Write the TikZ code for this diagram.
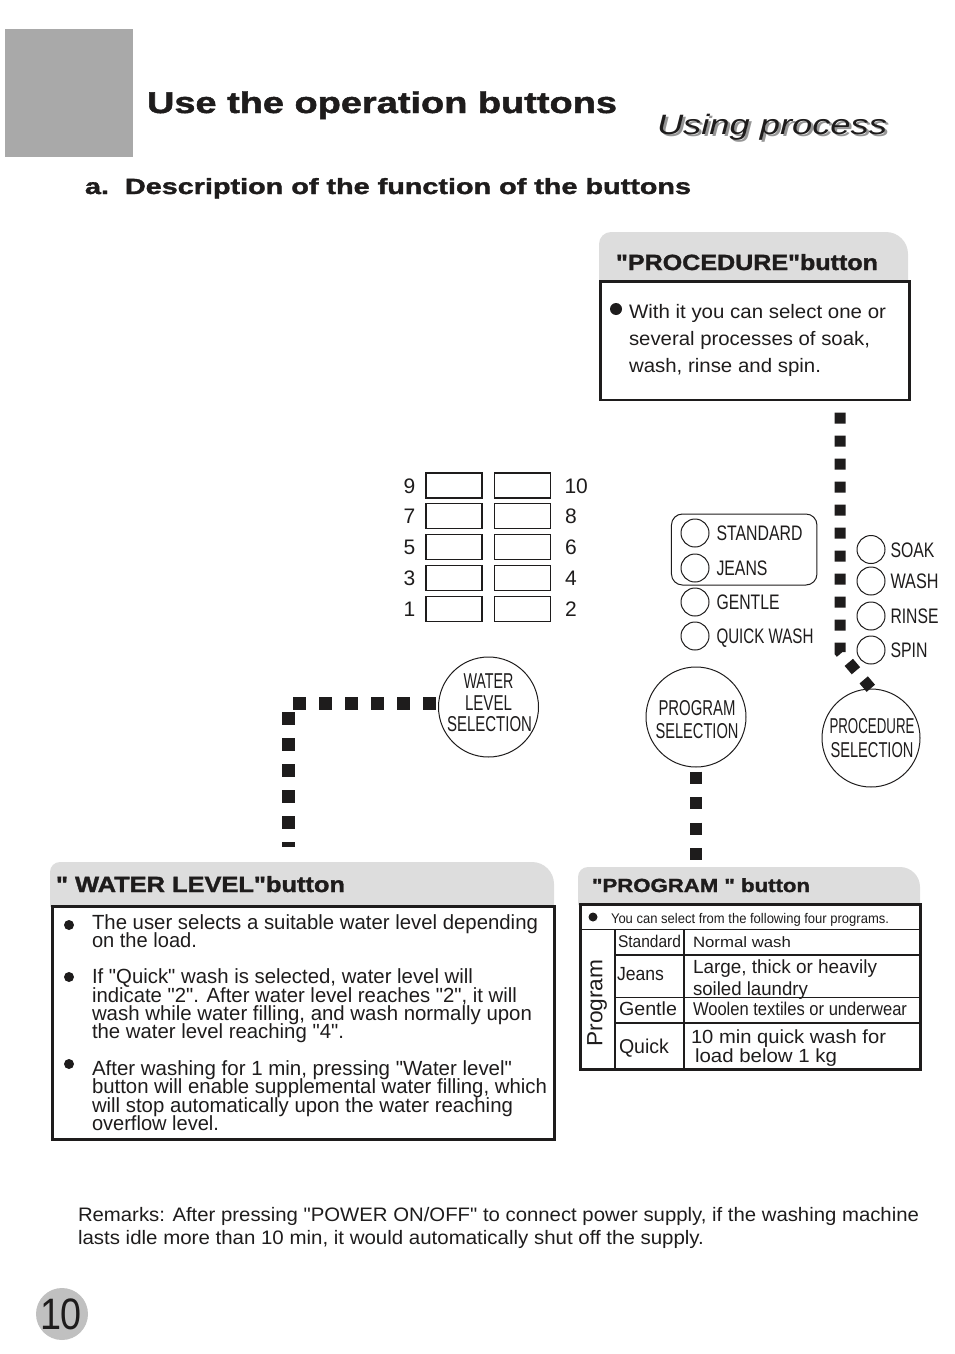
\documentclass[tikz,border=0pt]{standalone}
\usepackage{fontspec}
\usepackage{graphicx}
\newfontfamily\plain{Liberation Sans}
\newfontfamily\heavy[FakeBold=1.4]{Liberation Sans Bold}
\definecolor{ink}{RGB}{30,28,28}
\definecolor{titlegray}{RGB}{169,169,169}
\definecolor{hdr}{RGB}{221,221,221}
\definecolor{pgnum}{RGB}{192,192,192}
\definecolor{shadowgray}{RGB}{150,150,150}
\newsavebox\fitbox
\newcommand\fitw[2]{\sbox\fitbox{#2}\pgfmathsetmacro\fitratio{#1/\the\wd\fitbox}\scalebox{\fitratio}[1]{\usebox\fitbox}}
\newcommand\lbl[3]{{\fontsize{#1}{#1}\plain\fitw{#2}{#3}}}
\newcommand\hlbl[3]{{\fontsize{#1}{#1}\heavy\fitw{#2}{#3}}}
\newcommand\ilbl[3]{{\fontsize{#1}{#1}\plain\itshape\fitw{#2}{#3}}}
\newcommand\numtxt[1]{{\fontsize{21}{21}\plain #1}}
\begin{document}
\begin{tikzpicture}[x=1pt,y=-1pt,
  tx/.style={anchor=base west, inner sep=0pt, outer sep=0pt, text=ink},
  txc/.style={anchor=base, inner sep=0pt, outer sep=0pt, text=ink},
  bodybox/.style={draw=ink, line width=2.6pt, anchor=north west, inner sep=0pt},
  lvbox/.style={draw=ink, line width=1.3pt, minimum width=56pt, minimum height=25pt, inner sep=0pt},
  btn/.style={circle, draw=ink, line width=1pt, minimum size=28pt, inner sep=0pt},
  bigbtn/.style={circle, draw=ink, line width=1pt, minimum size=100pt, inner sep=0pt},
  tabline/.style={draw=ink, line width=1.3pt},
  bul/.style={fill=ink}]
\useasboundingbox (0,0) rectangle (954,1354);

% ---------- title area ----------
\fill[titlegray] (5,29) rectangle (133,157);
\node[tx] (title) at (147,113) {\hlbl{30}{470}{Use the operation buttons}};
\node[tx, text=shadowgray] (usingsh) at (659.5,136.5) {\ilbl{28}{230}{Using process}};
\node[tx] (using) at (657,134) {\ilbl{28}{230}{Using process}};
\node[tx] (subtitle) at (85,194) {\hlbl{22}{606}{a.\ \ Description of the function of the buttons}};

% ---------- PROCEDURE box ----------
\fill[hdr] (599,282) -- (599,244) arc[start angle=180,end angle=270,radius=12] -- (886,232) arc[start angle=270,end angle=360,radius=22] -- (908,282) -- cycle;
\node[tx] (prochead) at (616,270) {\hlbl{22}{262}{"PROCEDURE"button}};
\node[bodybox, minimum width=309pt, minimum height=118.5pt] (procbody) at (599,280) {};
\fill[bul] (616,309) circle (6);
\node[tx] (proc1) at (629,318) {\lbl{19.5}{257}{With it you can select one or}};
\node[tx] (proc2) at (629,345) {\lbl{19.5}{241}{several processes of soak,}};
\node[tx] (proc3) at (629,372) {\lbl{19.5}{192}{wash, rinse and spin.}};

% ---------- water level indicator boxes ----------
\node[lvbox] (lv9)  at (454,485.5) {};
\node[lvbox] (lv10) at (522.5,485.5) {};
\node[lvbox] (lv7)  at (454,516) {};
\node[lvbox] (lv8)  at (522.5,516) {};
\node[lvbox] (lv5)  at (454,547) {};
\node[lvbox] (lv6)  at (522.5,547) {};
\node[lvbox] (lv3)  at (454,578) {};
\node[lvbox] (lv4)  at (522.5,578) {};
\node[lvbox] (lv1)  at (454,609) {};
\node[lvbox] (lv2)  at (522.5,609) {};
\node[txc] (n9) at (409.5,493) {\numtxt{9}};
\node[txc] (n7) at (409.5,523.5) {\numtxt{7}};
\node[txc] (n5) at (409.5,554.5) {\numtxt{5}};
\node[txc] (n3) at (409.5,585.5) {\numtxt{3}};
\node[txc] (n1) at (409.5,616.5) {\numtxt{1}};
\node[tx] (n10) at (564.5,493) {\numtxt{10}};
\node[tx] (n8) at (565,523.5) {\numtxt{8}};
\node[tx] (n6) at (565,554.5) {\numtxt{6}};
\node[tx] (n4) at (565,585.5) {\numtxt{4}};
\node[tx] (n2) at (565,616.5) {\numtxt{2}};

% ---------- program buttons ----------
\node[draw=ink, line width=1pt, rounded corners=11pt, minimum width=145.5pt, minimum height=71pt, inner sep=0pt] (pgroup) at (744.2,549.5) {};
\node[btn] (bstd) at (695,533) {};
\node[btn] (bjea) at (695,568) {};
\node[btn] (bgen) at (695,602) {};
\node[btn] (bqui) at (695,636) {};
\node[tx] (lstd) at (716.5,540.5) {\lbl{21}{86}{STANDARD}};
\node[tx] (ljea) at (716.5,575.5) {\lbl{21}{51}{JEANS}};
\node[tx] (lgen) at (716.5,609.5) {\lbl{21}{63}{GENTLE}};
\node[tx] (lqui) at (716.5,643.5) {\lbl{21}{97}{QUICK WASH}};

% ---------- procedure buttons ----------
\node[btn] (bsoak) at (871,549.5) {};
\node[btn] (bwash) at (871,581) {};
\node[btn] (brins) at (871,616) {};
\node[btn] (bspin) at (871,650) {};
\node[tx] (lsoak) at (890.5,557) {\lbl{21}{44}{SOAK}};
\node[tx] (lwash) at (890.5,588.5) {\lbl{21}{48}{WASH}};
\node[tx] (lrins) at (890.5,623.5) {\lbl{21}{48}{RINSE}};
\node[tx] (lspin) at (890.5,657.5) {\lbl{21}{37}{SPIN}};

% ---------- selection knobs ----------
\node[bigbtn] (wlsel) at (488.5,707) {};
\node[txc] (wl1) at (488.5,688) {\lbl{21.5}{50}{WATER}};
\node[txc] (wl2) at (488.5,710) {\lbl{21.5}{47}{LEVEL}};
\node[txc] (wl3) at (489.5,731.5) {\lbl{21.5}{85}{SELECTION}};
\node[bigbtn] (psel) at (696,717) {};
\node[txc] (ps1) at (697,715) {\lbl{21.5}{77}{PROGRAM}};
\node[txc] (ps2) at (697,738) {\lbl{21.5}{83}{SELECTION}};
\node[bigbtn, minimum size=98pt] (prsel) at (871,738) {};
\node[txc] (pr1t) at (872,733) {\lbl{21.5}{85}{PROCEDURE}};
\node[txc] (pr2t) at (872,757.5) {\lbl{21.5}{83}{SELECTION}};

% ---------- WATER LEVEL box ----------
\fill[hdr] (50,907) -- (50,872) arc[start angle=180,end angle=270,radius=10] -- (532,862) arc[start angle=270,end angle=360,radius=22] -- (554,907) -- cycle;
\node[tx] (wlhead) at (56,892) {\hlbl{22}{289}{" WATER LEVEL"button}};
\node[bodybox, minimum width=502pt, minimum height=233pt] (wlbody) at (51,905) {};
\fill[bul] (69,925) circle (5);
\fill[bul] (69,977) circle (5);
\fill[bul] (69,1064) circle (5);
\node[tx] (w1) at (92,929) {\lbl{20.5}{446}{The user selects a suitable water level depending}};
\node[tx] (w2) at (92,947) {\lbl{20.5}{105}{on the load.}};
\node[tx] (w3) at (92,983) {\lbl{20.5}{381}{If "Quick" wash is selected, water level will}};
\node[tx] (w4) at (92,1002) {\lbl{20.5}{425}{indicate "2". After water level reaches "2", it will}};
\node[tx] (w5) at (92,1020) {\lbl{20.5}{440}{wash while water filling, and wash normally upon}};
\node[tx] (w6) at (92,1038) {\lbl{20.5}{252}{the water level reaching "4".}};
\node[tx] (w7) at (92,1075) {\lbl{20.5}{420}{After washing for 1 min, pressing "Water level"}};
\node[tx] (w8) at (92,1093) {\lbl{20.5}{455}{button will enable supplemental water filling, which}};
\node[tx] (w9) at (92,1112) {\lbl{20.5}{421}{will stop automatically upon the water reaching}};
\node[tx] (w10) at (92,1130) {\lbl{20.5}{127}{overflow level.}};

% ---------- PROGRAM box ----------
\fill[hdr] (578,905) -- (578,877) arc[start angle=180,end angle=270,radius=10] -- (900,867) arc[start angle=270,end angle=360,radius=20] -- (920,905) -- cycle;
\node[tx] (phead) at (592,892) {\hlbl{19}{218}{"PROGRAM " button}};
\node[bodybox, minimum width=340pt, minimum height=165pt] (pbody) at (579,903) {};
\draw[tabline] (579,929.5) -- (919,929.5);
\draw[tabline] (615,929.5) -- (615,1068);
\draw[tabline] (684,929.5) -- (684,1068);
\draw[tabline] (615,955) -- (919,955);
\draw[tabline] (615,997.5) -- (919,997.5);
\draw[tabline] (615,1023) -- (919,1023);
\fill[bul] (593,917) circle (4.5);
\node[tx] (pintro) at (611,923) {\lbl{14}{278}{You can select from the following four programs.}};
\node[inner sep=0pt, rotate=90, text=ink] (progv) at (597,1003) {\lbl{22}{87}{Program}};
\node[tx] (tstd) at (618,947) {\lbl{17}{63}{Standard}};
\node[tx] (dstd) at (693,947) {\lbl{15}{98}{Normal wash}};
\node[tx] (tjea) at (617,980) {\lbl{19}{47}{Jeans}};
\node[tx] (djea1) at (693,973) {\lbl{19}{184}{Large, thick or heavily}};
\node[tx] (djea2) at (693,995) {\lbl{19}{115}{soiled laundry}};
\node[tx] (tgen) at (619,1015) {\lbl{19}{58}{Gentle}};
\node[tx] (dgen) at (693,1015) {\lbl{18.5}{214}{Woolen textiles or underwear}};
\node[tx] (tqui) at (619,1053) {\lbl{20}{50}{Quick}};
\node[tx] (dqui1) at (691,1043) {\lbl{19}{195}{10 min quick wash for}};
\node[tx] (dqui2) at (695,1062) {\lbl{19}{142}{load below 1 kg}};

% ---------- dotted connectors ----------
\coordinate (wlend) at (288.5,847);
\coordinate (prx) at (840,0);
\coordinate (prbend) at (840,652);
\coordinate (phtop) at (0,867);
\draw[ink, line width=13pt, dash pattern=on 13pt off 13pt, dash phase=23.5pt] (wlsel.176) -| (wlend);
\draw[ink, line width=12pt, dash pattern=on 12pt off 13.5pt, dash phase=21.5pt] (psel.south) -- (psel.south |- phtop);
\draw[ink, line width=11pt, dash pattern=on 11pt off 12pt, dash phase=11.5pt] (procbody.south -| prx) -- (prbend) -- (prsel.north);

% ---------- remarks ----------
\node[tx] (rem1) at (78,1221) {\lbl{19.5}{841}{Remarks: After pressing "POWER ON/OFF" to connect power supply, if the washing machine}};
\node[tx] (rem2) at (78,1244) {\lbl{19.5}{626}{lasts idle more than 10 min, it would automatically shut off the supply.}};

% ---------- page number ----------
\node[circle, fill=pgnum, minimum size=52pt, inner sep=0pt] (pgcirc) at (62,1314) {};
\node[inner sep=0pt, text=ink] (pgnum) at (61,1314) {\lbl{44}{42}{10}};
\end{tikzpicture}
\end{document}
